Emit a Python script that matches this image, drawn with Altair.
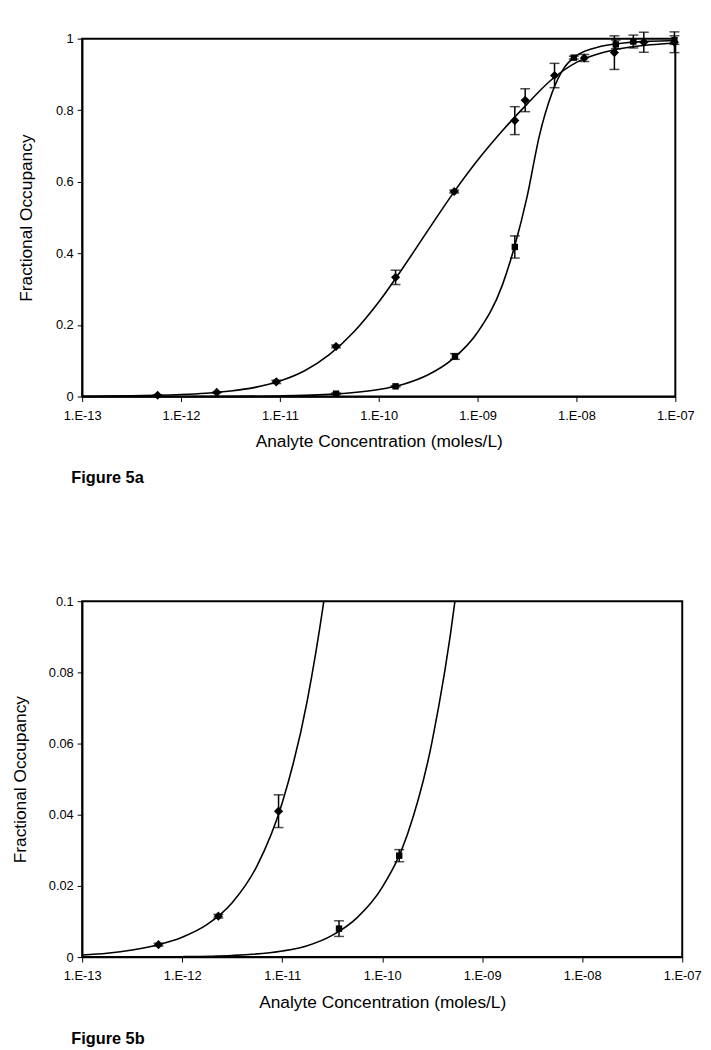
import altair as alt
import pandas as pd

s1_conc = [5.8e-13, 2.3e-12, 9.2e-12, 3.7e-11, 1.48e-10, 5.8e-10, 2.38e-9,
           3.03e-9, 6.0e-9, 1.2e-8, 2.42e-8, 4.8e-8, 9.8e-8]
s1_occ = [0.0035, 0.0115, 0.041, 0.140, 0.333, 0.573, 0.771,
          0.828, 0.897, 0.946, 0.961, 0.990, 0.990]
s1_err = [0.0004, 0.0005, 0.0046, 0.004, 0.020, 0.004, 0.039,
          0.032, 0.034, 0.010, 0.047, 0.028, 0.029]

s2_conc = [3.7e-11, 1.48e-10, 5.9e-10, 2.38e-9, 9.4e-9, 2.5e-8, 3.76e-8, 9.8e-8]
s2_occ = [0.008, 0.0285, 0.112, 0.418, 0.947, 0.984, 0.992, 0.996]
s2_err = [0.0022, 0.0017, 0.008, 0.031, 0.004, 0.012, 0.018, 0.012]

# ---------------- fitted curves ----------------
c1_conc = [1e-13, 1.78e-13, 3.16e-13, 5.62e-13, 1e-12, 1.78e-12, 3.16e-12, 5.62e-12,
           1e-11, 1.78e-11, 3.16e-11, 5.62e-11, 1e-10, 1.78e-10, 3.16e-10, 5.62e-10,
           1e-9, 1.78e-9, 3.16e-9, 5.62e-9, 1e-8, 1.78e-8, 3.16e-8, 5.62e-8, 1e-7]
c1_occ = [0.0006, 0.0011, 0.0020, 0.0034, 0.0056, 0.0092, 0.0153, 0.0257,
          0.0433, 0.0720, 0.1170, 0.1810, 0.2640, 0.3620, 0.4650, 0.5670,
          0.6600, 0.7425, 0.8171, 0.8859, 0.9339, 0.9600, 0.9744, 0.9829, 0.9881]

c2_conc = [1e-13, 3.16e-13, 1e-12, 3.16e-12, 1e-11, 1.78e-11, 3.16e-11, 5.62e-11,
           1e-10, 1.78e-10, 3.16e-10, 5.62e-10, 1e-9, 1.78e-9, 2.37e-9, 3.16e-9,
           4.22e-9, 5.62e-9, 7.5e-9, 1e-8, 1.78e-8, 3.16e-8, 5.62e-8, 1e-7]
c2_occ = [0.00001, 0.00003, 0.00012, 0.00046, 0.0017, 0.0032, 0.0061, 0.0111,
          0.0196, 0.0343, 0.0607, 0.1051, 0.1795, 0.3113, 0.4201, 0.5573,
          0.7292, 0.8460, 0.9182, 0.9523, 0.9786, 0.9884, 0.9928, 0.9950]

x_ticks = [1e-13, 1e-12, 1e-11, 1e-10, 1e-9, 1e-8, 1e-7]
y_ticks_a = [0, 0.2, 0.4, 0.6, 0.8, 1.0]
y_ticks_b = [0, 0.02, 0.04, 0.06, 0.08, 0.1]

FONT = "Liberation Sans"

pts1 = pd.DataFrame({"conc": s1_conc, "occ": s1_occ,
                     "lo": [o - e for o, e in zip(s1_occ, s1_err)],
                     "hi": [o + e for o, e in zip(s1_occ, s1_err)]})
pts2 = pd.DataFrame({"conc": s2_conc, "occ": s2_occ,
                     "lo": [o - e for o, e in zip(s2_occ, s2_err)],
                     "hi": [o + e for o, e in zip(s2_occ, s2_err)]})
pts_all = pd.concat([pts1, pts2], ignore_index=True)
cur1 = pd.DataFrame({"conc": c1_conc, "occ": c1_occ})
cur2 = pd.DataFrame({"conc": c2_conc, "occ": c2_occ})

label_expr = ("'1.E-' + (round(-log(datum.value)/LN10) < 10 ? '0' : '') + "
              "round(-log(datum.value)/LN10)")


def panel(ymax, yticks, width, height, title_pad, fig_label):
    xs = alt.Scale(type="log", domain=[1e-13, 1e-7], nice=False)
    ys = alt.Scale(domain=[0, ymax], nice=False)
    xax = alt.Axis(values=x_ticks, labelExpr=label_expr, title="Analyte Concentration (moles/L)",
                   grid=False, tickSize=5, labelPadding=8, titlePadding=11,
                   labelFontSize=13, titleFontSize=17.5, titleFontWeight="normal",
                   labelFont=FONT, titleFont=FONT, labelColor="black", titleColor="black",
                   domainColor="black", domainWidth=1.5, tickColor="black", labelFlush=False)
    yax = alt.Axis(values=yticks, format="~g", title="Fractional Occupancy",
                   grid=False, tickSize=5, labelPadding=4, titlePadding=title_pad,
                   labelFontSize=13, titleFontSize=17.5, titleFontWeight="normal",
                   labelFont=FONT, titleFont=FONT, labelColor="black", titleColor="black",
                   domainColor="black", domainWidth=1.5, tickColor="black")

    def X(f="conc"):
        return alt.X(f"{f}:Q", scale=xs, axis=xax)

    def Y(f="occ"):
        return alt.Y(f"{f}:Q", scale=ys, axis=yax)

    clip = ymax < 0.5
    l1 = alt.Chart(cur1).mark_line(color="black", strokeWidth=1.6, interpolate="monotone",
                                   clip=clip).encode(x=X(), y=Y())
    l2 = alt.Chart(cur2).mark_line(color="black", strokeWidth=1.6, interpolate="monotone",
                                   clip=clip).encode(x=X(), y=Y())
    pall = alt.Chart(pts_all).transform_filter(alt.datum.occ <= ymax)
    bars = pall.mark_rule(color="black", strokeWidth=1.5).encode(
        x=X(), y=Y("lo"), y2="hi:Q")
    cap_lo = pall.mark_tick(color="black", orient="horizontal", size=10, thickness=1.5).encode(
        x=X(), y=Y("lo"))
    cap_hi = pall.mark_tick(color="black", orient="horizontal", size=10, thickness=1.5).encode(
        x=X(), y=Y("hi"))
    d1 = alt.Chart(pts1).transform_filter(alt.datum.occ <= ymax).mark_point(
        shape="diamond", filled=True, color="black", size=85, opacity=1).encode(x=X(), y=Y())
    d2 = alt.Chart(pts2).transform_filter(alt.datum.occ <= ymax).mark_point(
        shape="square", filled=True, color="black", size=42, opacity=1).encode(x=X(), y=Y())

    return alt.layer(l1, l2, bars, cap_lo, cap_hi, d1, d2).properties(
        width=width, height=height,
        view=alt.ViewBackground(stroke="black", strokeWidth=2),
        title=alt.TitleParams(fig_label, orient="bottom", anchor="start", frame="group",
                              dx=-11, offset=20, font=FONT, fontSize=16.5, fontWeight="bold",
                              color="black"))


top = panel(1.0, y_ticks_a, 600, 362, 20, "Figure 5a")
bottom = panel(0.1, y_ticks_b, 607, 360, 19, "Figure 5b")

chart = alt.vconcat(top, bottom, spacing=108).properties(
    padding={"left": 2, "top": 16, "right": 0, "bottom": 0}
).configure_view(stroke="black", strokeWidth=2).configure(background="white")

chart.save("out.html", embed_options={"renderer": "svg", "actions": False})
